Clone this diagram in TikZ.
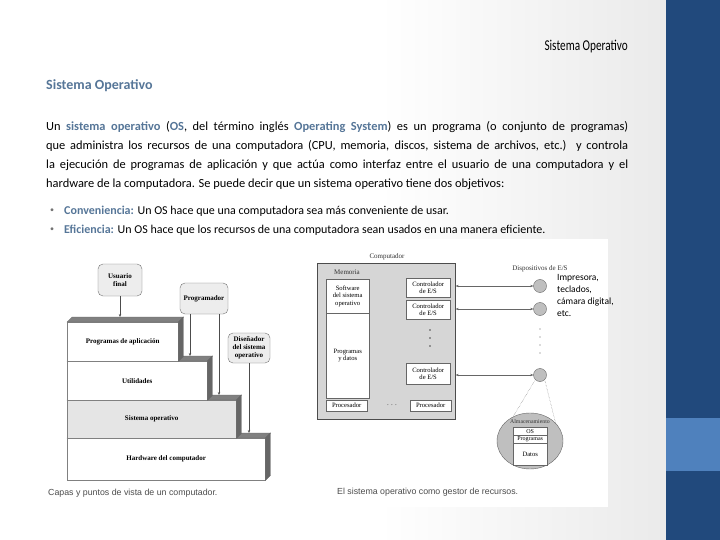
\documentclass[tikz,border=0pt]{standalone}
\usepackage{fontspec}
\setmainfont{Carlito}
\newfontfamily\scanfont{Liberation Serif}
\newfontfamily\capfont{Liberation Sans}
\usetikzlibrary{arrows.meta,positioning,calc,shapes.geometric}
\definecolor{sblue}{RGB}{86,118,152}
\definecolor{bardark}{RGB}{33,73,124}
\definecolor{barlight}{RGB}{79,129,189}
\definecolor{cgray}{RGB}{214,214,214}
\newcommand{\kw}[1]{\textcolor{sblue}{\textbf{#1}}}

\begin{document}
\begin{tikzpicture}[x=1pt,y=-1pt,
  txt/.style={inner sep=0pt,anchor=north west},
  role/.style={draw=black!55,fill=black!7,rounded corners=5pt,align=center,
               inner sep=1pt,font=\scanfont\bfseries\fontsize{7}{8}\selectfont},
  layer/.style={draw=black!50,fill=white,anchor=north west,inner sep=0pt,
                font=\scanfont\bfseries\fontsize{7}{8}\selectfont},
  face/.style={fill=black!50,draw=black!60,line width=0.3pt},
  arr/.style={black!70,line width=0.5pt,-{Stealth[length=3pt,width=2.4pt]}},
  dbl/.style={black!60,line width=0.4pt,
              {Stealth[length=3pt,width=2.4pt]}-{Stealth[length=3pt,width=2.4pt]}},
  ubox/.style={draw=black!60,fill=white,anchor=north west,inner sep=0pt,
               align=center,font=\scanfont\fontsize{6.6}{7.4}\selectfont},
  lbl/.style={inner sep=0pt,font=\scanfont\fontsize{7}{8}\selectfont,text=black!80},
  dev/.style={circle,draw=black!60,fill=black!25,minimum size=13pt,inner sep=0pt},
  capt/.style={anchor=west,inner sep=0pt,text=black!70,
              font=\capfont\fontsize{8.8}{10}\selectfont},
  ]
  \useasboundingbox (0,0) rectangle (720,540);
  % slide background and side bar
  \fill[white] (0,0) rectangle (720,540);
  \shade[left color=white,right color=black!8] (380,0) rectangle (660,540);
  \fill[black!8] (660,0) rectangle (666,540);
  \fill[bardark] (666,0) rectangle (720,540);
  \fill[barlight] (666,418) rectangle (720,471);

  % texts
  \node[anchor=east,inner sep=0pt] (hdr) at (628,47)
    {\scalebox{0.75}[1]{\fontsize{15}{15}\selectfont Sistema Operativo}};
  \node[txt,text=sblue,font=\bfseries\fontsize{14}{16}\selectfont] (ttl) at (46,79) {Sistema Operativo};
  \node[txt,text width=582pt,align=justify,font=\fontsize{12.4}{19}\selectfont] (par) at (46,121)
    {\hyphenpenalty=10000 Un \kw{sistema operativo} (\kw{OS}, del término inglés \kw{Operating System}) es un programa (o conjunto de programas)\linebreak
     que administra los recursos de una computadora (CPU, memoria, discos, sistema de archivos, etc.) y controla\linebreak
     la ejecución de programas de aplicación y que actúa como interfaz entre el usuario de una computadora y el\linebreak
     hardware de la computadora. Se puede decir que un sistema operativo tiene dos objetivos:};
  \node[txt,text=black!55,font=\fontsize{8}{8}\selectfont] (b1) at (50,209) {\textbullet};
  \node[txt,text=black!55,font=\fontsize{8}{8}\selectfont] (b2) at (50,228) {\textbullet};
  \node[txt,font=\fontsize{12}{14}\selectfont] (c1) at (64,206)
    {\kw{Conveniencia:} Un OS hace que una computadora sea más conveniente de usar.};
  \node[txt,font=\fontsize{12}{14}\selectfont] (c2) at (64,225)
    {\kw{Eficiencia:} Un OS hace que los recursos de una computadora sean usados en una manera eficiente.};

  % figure panel
  \fill[white] (45,239) rectangle (608,507);

  % layers of the computer
  \node[layer,minimum width=198pt,minimum height=42pt] (hw) at (67,438) {Hardware del computador};
  \fill[face] (hw.north west) -- ++(5,-5) -- ([shift={(5,-5)}]hw.north east) -- (hw.north east) -- cycle;
  \fill[face,fill=black!60] (hw.north east) -- ++(5,-5) -- ([shift={(5,-5)}]hw.south east) -- (hw.south east) -- cycle;
  \node[layer,fill=black!10,minimum width=169pt,minimum height=38pt] (so) at (67,400) {Sistema operativo};
  \fill[face] (so.north west) -- ++(5,-5) -- ([shift={(5,-5)}]so.north east) -- (so.north east) -- cycle;
  \fill[face,fill=black!60] (so.north east) -- ++(5,-5) -- ([shift={(5,-5)}]so.south east) -- (so.south east) -- cycle;
  \node[layer,minimum width=140pt,minimum height=39pt] (ut) at (67,361) {Utilidades};
  \fill[face] (ut.north west) -- ++(5,-5) -- ([shift={(5,-5)}]ut.north east) -- (ut.north east) -- cycle;
  \fill[face,fill=black!60] (ut.north east) -- ++(5,-5) -- ([shift={(5,-5)}]ut.south east) -- (ut.south east) -- cycle;
  \node[layer,minimum width=111pt,minimum height=39pt] (ap) at (67,322) {Programas de aplicación};
  \fill[face] (ap.north west) -- ++(5,-5) -- ([shift={(5,-5)}]ap.north east) -- (ap.north east) -- cycle;
  \fill[face,fill=black!60] (ap.north east) -- ++(5,-5) -- ([shift={(5,-5)}]ap.south east) -- (ap.south east) -- cycle;

  \node[role,minimum width=44pt,minimum height=32pt] (usr) at (120,280) {Usuario\\final};
  \node[role,minimum width=48pt,minimum height=31pt] (prg) at (204,298.5) {Programador};
  \node[role,minimum width=42pt,minimum height=30pt] (dis) at (249,348) {Diseñador\\del sistema\\operativo};

  \coordinate (apt) at (0,317);
  \coordinate (utt) at (0,356);
  \coordinate (sot) at (0,395);
  \coordinate (hwt) at (0,433);
  \draw[arr] (usr.south) -- (usr.south |- apt);
  \draw[arr] ([xshift=-14pt]prg.south) -- ([xshift=-14pt]prg.south |- utt);
  \draw[arr] ([xshift=15pt]prg.south) -- ([xshift=15pt]prg.south |- sot);
  \draw[arr] (dis.south) -- (dis.south |- hwt);
  \node[capt] (capa) at (48,493) {Capas y puntos de vista de un computador.};

  % the OS as resource manager
  \node[draw=black!70,line width=0.7pt,fill=cgray,anchor=north west,inner sep=0pt,
        minimum width=138pt,minimum height=156pt] (cmp) at (317,263) {};
  \node[lbl] (cmpl) at (387,257) {Computador};
  \node[lbl] (meml) at (347,272) {Memoria};
  \node[ubox,minimum width=43pt,minimum height=34pt] (msw) at (326,279) {Software\\del sistema\\operativo};
  \node[ubox,minimum width=43pt,minimum height=85pt] (mpd) at (326,313) {Programas\\y datos};
  \node[ubox,minimum width=44pt,minimum height=19pt] (ctla) at (406,278) {Controlador\\de E/S};
  \node[ubox,minimum width=44pt,minimum height=19pt] (ctlb) at (406,300) {Controlador\\de E/S};
  \node[ubox,minimum width=44pt,minimum height=21pt] (ctlc) at (406,363) {Controlador\\de E/S};
  \node[ubox,minimum width=41pt,minimum height=11pt] (pra) at (326,400) {Procesador};
  \node[ubox,minimum width=41pt,minimum height=11pt] (prb) at (410,400) {Procesador};
  \node[lbl] (pdots) at (392,405) {. . .};
  \foreach \yy in {330,338,346} \fill[black!70] (430,\yy) circle (0.8pt);

  \node[lbl] (devl) at (540,269) {Dispositivos de E/S};
  \node[dev] (dva) at (540,286) {};
  \node[dev] (dvb) at (540,309) {};
  \node[dev] (dvc) at (540,375) {};
  \foreach \yy in {329,337,345,353} \fill[black!60] (540,\yy) circle (0.6pt);
  \draw[dbl] (cmp.east |- dva) -- (dva.west);
  \draw[dbl] (cmp.east |- dvb) -- (dvb.west);
  \draw[dbl] (cmp.east |- dvc) -- (dvc.west);
  \node[txt,align=left,font=\fontsize{9.5}{12}\selectfont] (devt) at (557,274)
    {Impresora,\\teclados,\\cámara digital,\\etc.};

  \node[ellipse,draw=black!60,fill=black!25,minimum width=66pt,minimum height=56pt,inner sep=0pt] (sto) at (530,441) {};
  \draw[black!60,densely dotted] (dvc.south west) -- (sto.125);
  \draw[black!60,densely dotted] (dvc.south east) -- (sto.35);
  \node[lbl,font=\scanfont\fontsize{5.8}{6}\selectfont] (stol) at (530,422) {Almacenamiento};
  \node[ubox,minimum width=34pt,minimum height=8pt,font=\scanfont\fontsize{6}{6}\selectfont] (sos) at (513,427) {OS};
  \node[ubox,minimum width=34pt,minimum height=8pt,font=\scanfont\fontsize{6}{6}\selectfont] (spr) at (513,435) {Programas};
  \node[ubox,minimum width=34pt,minimum height=22pt] (sdt) at (513,443) {Datos};
  \node[capt] (capb) at (337,492) {El sistema operativo como gestor de recursos.};
\end{tikzpicture}
\end{document}
